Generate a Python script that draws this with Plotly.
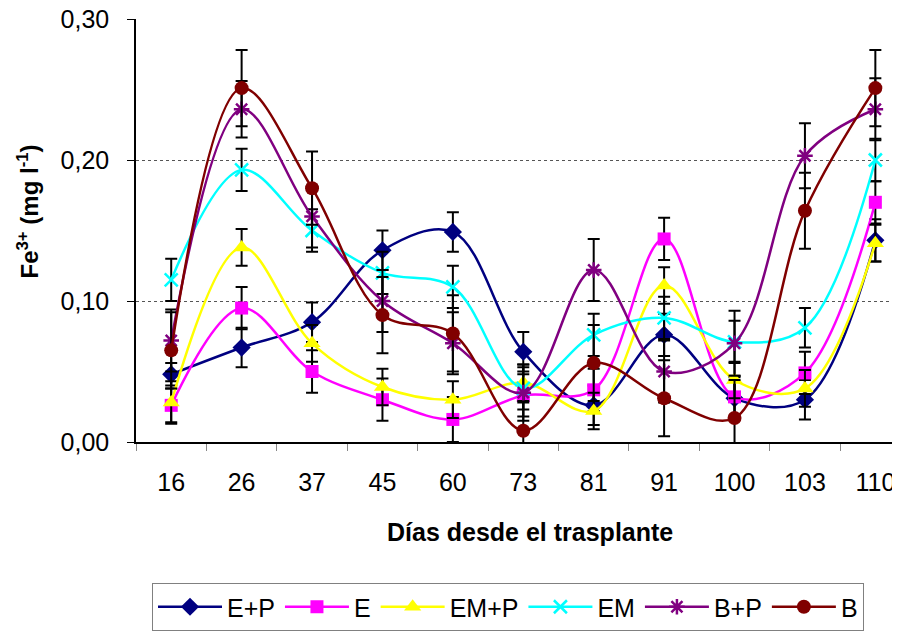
import plotly.graph_objects as go

days = ["16", "26", "37", "45", "60", "73", "81", "91", "100", "103", "110"]
y_ticks = [0.0, 0.1, 0.2, 0.3]

ep = [0.048, 0.067, 0.085, 0.136, 0.149, 0.064, 0.026, 0.076, 0.031, 0.030, 0.143]
e = [0.026, 0.095, 0.050, 0.030, 0.016, 0.033, 0.037, 0.144, 0.032, 0.049, 0.170]
emp = [0.028, 0.138, 0.070, 0.039, 0.030, 0.042, 0.022, 0.111, 0.044, 0.038, 0.141]
em = [0.115, 0.193, 0.150, 0.120, 0.110, 0.038, 0.076, 0.088, 0.071, 0.081, 0.200]
bp = [0.072, 0.236, 0.160, 0.100, 0.070, 0.035, 0.122, 0.050, 0.070, 0.203, 0.236]
b = [0.065, 0.251, 0.180, 0.090, 0.077, 0.008, 0.056, 0.031, 0.017, 0.164, 0.251]

ep_err = [0.008, 0.014, 0.014, 0.014, 0.014, 0.014, 0.014, 0.015, 0.015, 0.014, 0.015]
e_err = [0.012, 0.015, 0.015, 0.015, 0.016, 0.015, 0.015, 0.015, 0.015, 0.015, 0.015]
emp_err = [0.015, 0.013, 0.013, 0.013, 0.013, 0.013, 0.013, 0.013, 0.013, 0.013, 0.013]
em_err = [0.015, 0.015, 0.015, 0.015, 0.015, 0.015, 0.015, 0.015, 0.015, 0.014, 0.015]
bp_err = [0.022, 0.020, 0.022, 0.022, 0.022, 0.020, 0.022, 0.022, 0.023, 0.023, 0.022]
b_err = [0.027, 0.027, 0.026, 0.027, 0.027, 0.020, 0.027, 0.027, 0.027, 0.027, 0.027]

series = [
    ("E+P", ep, ep_err, "#000080", "diamond", 14, None),
    ("E", e, e_err, "#FF00FF", "square", 13, None),
    ("EM+P", emp, emp_err, "#FFFF00", "triangle-up", 15, None),
    ("EM", em, em_err, "#00FFFF", "x-thin", 13, 2.5),
    ("B+P", bp, bp_err, "#800080", "asterisk", 13, 2.5),
    ("B", b, b_err, "#800000", "circle", 14, None),
]

FONT = "Liberation Sans, Arial, sans-serif"
FS = 25
# page body has an 8px default margin; figure sized to fill the rest of the 900x639 window
W, H = 892, 631

fig = go.Figure()
for name, vals, errs, color, sym, size, lw in series:
    marker = dict(symbol=sym, size=size, color=color)
    if lw:
        marker["line"] = dict(width=lw, color=color)
    else:
        marker["line"] = dict(width=0)
    fig.add_trace(go.Scatter(
        x=days, y=vals, name=name, mode="lines+markers",
        line=dict(color=color, width=2.5, shape="spline", smoothing=1.0),
        marker=marker,
        error_y=dict(type="data", array=errs, visible=True,
                     color="black", thickness=2, width=6),
        cliponaxis=True,
    ))

fig.update_layout(
    width=W, height=H,
    margin=dict(l=128, r=0, t=11, b=197, autoexpand=False),
    paper_bgcolor="white", plot_bgcolor="white",
    separators=",.",
    font=dict(family=FONT, size=FS, color="black"),
    showlegend=True,
    legend=dict(
        orientation="h", xref="container", yref="container",
        x=144 / W, xanchor="left", y=1 - 575 / H, yanchor="top",
        bordercolor="#808080", borderwidth=1, font=dict(size=FS),
        itemwidth=64, bgcolor="white",
    ),
    xaxis=dict(
        type="category", range=[-0.5, 10.35], tickson="boundaries",
        automargin=False,
        showline=True, linecolor="black", linewidth=1.5,
        ticks="outside", ticklen=7, tickcolor="#888888", tickwidth=1,
        ticklabelstandoff=17,
        showgrid=False, tickfont=dict(size=FS),
    ),
    yaxis=dict(
        range=[0, 0.30], tickmode="array", tickvals=y_ticks, tickformat=".2f",
        automargin=False, ticklabeloverflow="allow",
        showline=True, linecolor="black", linewidth=1.5,
        ticks="outside", ticklen=7, tickcolor="black", tickwidth=1,
        ticklabelstandoff=13,
        showgrid=True, gridcolor="#555555", gridwidth=1, griddash="dot",
        zeroline=False, tickfont=dict(size=FS),
    ),
    annotations=[
        dict(text="<b>Días desde el trasplante</b>", xref="paper", yref="paper",
             x=0.5157, y=-0.2128, xanchor="center", yanchor="middle",
             showarrow=False, font=dict(size=FS, family=FONT)),
        dict(text="<b>Fe<sup>3+</sup> (mg l<sup>-1</sup>)</b>", xref="paper", yref="paper",
             x=0, xshift=-109, y=0.5, yshift=19, xanchor="center", yanchor="middle",
             textangle=-90, showarrow=False, font=dict(size=24, family=FONT)),
    ],
)

fig.write_html("out.html")
